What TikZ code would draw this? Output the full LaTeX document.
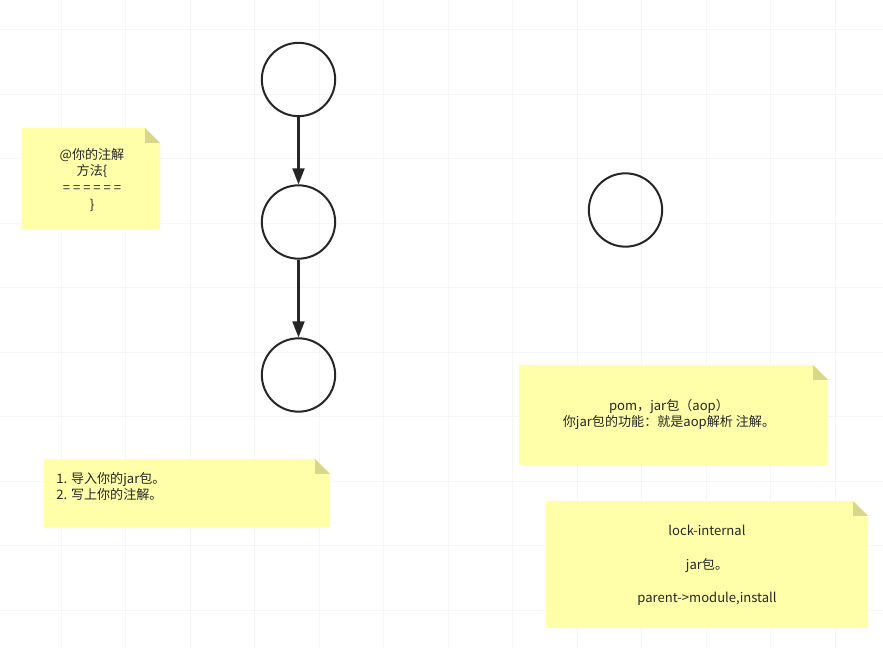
\documentclass[tikz,border=0pt]{standalone}
\usepackage{fontspec}
\setmainfont{Noto Sans CJK SC}
\usetikzlibrary{arrows.meta}
\definecolor{notegelb}{HTML}{FFFFAA}
\definecolor{notefalz}{HTML}{D8D88C}
\definecolor{linie}{HTML}{262626}
\definecolor{raster}{HTML}{F6F6F6}

\begin{document}
\begin{tikzpicture}[x=0.75pt,y=-0.75pt,
	kreis/.style={draw=linie,line width=1.5pt,circle,minimum size=55pt,inner sep=0pt},
	pfeil/.style={draw=linie,line width=1.6pt,-{Triangle[length=12pt,width=9pt]}},
	notiz/.style={font=\fontsize{9.8}{12.6}\selectfont,text=black!85,inner sep=0pt}]
	\useasboundingbox (0,0) rectangle (883,648);
	\fill[white] (0,0) rectangle (883,648);

	% Raster
	\foreach \x in {0,...,12} {
	     \draw[raster] (61+64.5*\x,0) -- (61+64.5*\x,648);
	}
	\foreach \y in {0,...,9} {
	     \draw[raster] (0,29.3+64.5*\y) -- (883,29.3+64.5*\y);
	}

	% Notizen
	\foreach \xa/\ya/\xb/\yb in {22/128/160/229, 44/459/330/527, 519/365/828/465, 546/501/868/628} {
	     \fill[notegelb] (\xa,\ya) -- (\xb-15,\ya) -- (\xb,\ya+15) -- (\xb,\yb) -- (\xa,\yb) -- cycle;
	     \fill[notefalz] (\xb-15,\ya) -- (\xb-15,\ya+15) -- (\xb,\ya+15) -- cycle;
	}
	\node[notiz,align=center] (annot) at (92,180) {@你的注解\\方法\{\\= = = = = =\\\}};
	\node[notiz,align=left,anchor=west] (schritte) at (56,486.5) {1. 导入你的jar包。\\2. 写上你的注解。};
	\node[notiz,align=center] (pom) at (669,414.5) {pom，jar包（aop）\\你jar包的功能：就是aop解析 注解。};
	\node[notiz,align=center] (lock) at (707,565.5) {lock-internal\\[12.6pt]jar包。\\[12.6pt]parent->module,install};

	% Kreise
	\node[kreis] (oben) at (298.5,79.5) {};
	\node[kreis] (mitte) at (298.5,222) {};
	\node[kreis] (unten) at (298.5,375) {};
	\node[kreis] (rechts) at (625.5,210) {};
	\draw[pfeil] (oben) -- (mitte);
	\draw[pfeil] (mitte) -- (unten);
\end{tikzpicture}
\end{document}
